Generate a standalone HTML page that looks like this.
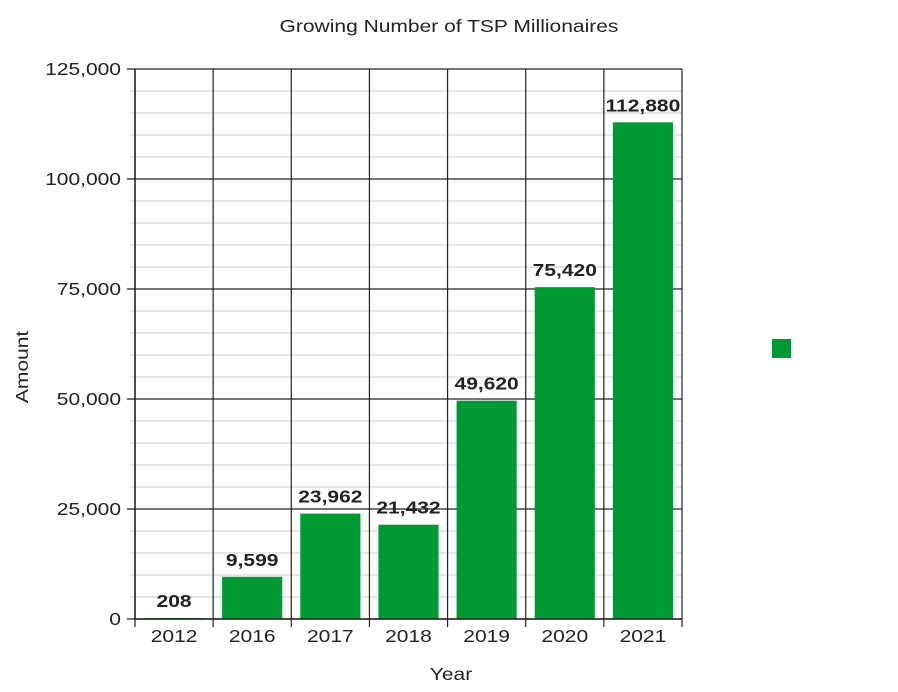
<!DOCTYPE html>
<html><head><meta charset="utf-8"><style>
body{margin:0;background:#fff;}
svg text{font-family:"Liberation Sans",Arial,sans-serif;}
</style></head><body>
<svg width="898" height="687" id="c" xmlns="http://www.w3.org/2000/svg">
<text x="449" y="32" text-anchor="middle" font-size="17.5" fill="#222">Growing Number of TSP Millionaires</text>
<text x="451" y="680" text-anchor="middle" font-size="17.5" fill="#222">Year</text>
<text transform="translate(28,367) rotate(-90)" text-anchor="middle" font-size="17.5" fill="#222">Amount</text>
<rect x="772" y="339" width="19" height="19" fill="#009933"/>
<g id="grid"></g><g id="bars"></g><g id="axes"></g>
</svg>
<script>
const categories=["2012","2016","2017","2018","2019","2020","2021"];
const values=[208,9599,23962,21432,49620,75420,112880];
const labels=["208","9,599","23,962","21,432","49,620","75,420","112,880"];
const yTicks=[0,25000,50000,75000,100000,125000];
const yTickLabels=["0","25,000","50,000","75,000","100,000","125,000"];
const NS="http://www.w3.org/2000/svg";
const L=135,R=682,T=69,B=619,ymax=125000;
const cw=(R-L)/categories.length;
const y=v=>B-(v/ymax)*(B-T);
const x=i=>L+i*cw;
function mk(p,tag,a){const e=document.createElementNS(NS,tag);for(const k in a)e.setAttribute(k,a[k]);p.appendChild(e);return e;}
const g=document.getElementById('grid'),b=document.getElementById('bars'),ax=document.getElementById('axes');
for(let v=0;v<=ymax;v+=5000){
  if(v%25000===0)continue;
  const l=mk(g,'line',{x1:130,x2:R,y1:y(v),y2:y(v),stroke:'#ccc','stroke-width':1});
  
  
}
yTicks.forEach((v,i)=>{
  const l=mk(g,'line',{x1:127,x2:R,y1:y(v),y2:y(v),stroke:'#222','stroke-width':1.2});
  
  
  const t=mk(ax,'text',{x:121,y:y(v)+6,'text-anchor':'end','font-size':17.5,fill:'#222'});
  t.textContent=yTickLabels[i];
  
  
});
for(let i=0;i<=categories.length;i++){
  const l=mk(g,'line',{x1:x(i),x2:x(i),y1:T,y2:B+8,stroke:'#222','stroke-width':1.2});
  
  
}
categories.forEach((c,i)=>{
  const r=mk(b,'rect',{x:x(i)+9,y:y(values[i]),width:cw-18,height:B-y(values[i]),fill:'#009933'});
  
  
  const t=mk(b,'text',{x:x(i)+cw/2,y:y(values[i])-11,'text-anchor':'middle','font-size':17.5,'font-weight':'bold',fill:'#222'});
  t.textContent=labels[i];
  
  
  const xt=mk(ax,'text',{x:x(i)+cw/2,y:642,'text-anchor':'middle','font-size':17.5,fill:'#222'});
  xt.textContent=c;
  
  
});
mk(ax,'line',{x1:L,x2:L,y1:T,y2:B,stroke:'#222','stroke-width':1.5});
mk(ax,'line',{x1:L,x2:R,y1:B,y2:B,stroke:'#222','stroke-width':1.5});
document.querySelectorAll('svg text').forEach(t=>{
  const w=t.getComputedTextLength();
  t.setAttribute('textLength',(w*1.2).toFixed(1));
  t.setAttribute('lengthAdjust','spacingAndGlyphs');
});
</script>
</body></html>
